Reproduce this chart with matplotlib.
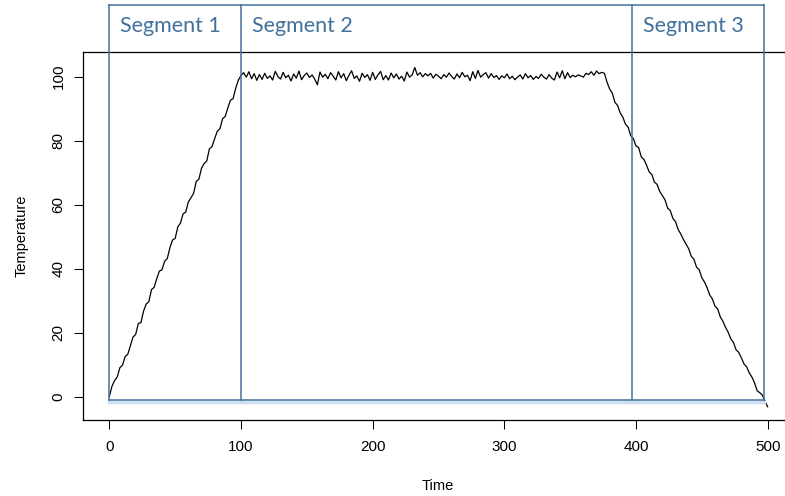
import numpy as np
from matplotlib import pyplot as plt

# datos: temperatura cada 2 unidades de tiempo
rampaSubida = [
    0.0, 3.2, 5.0, 6.1, 9.0, 9.8, 12.5, 13.2, 15.9, 18.6,
    19.4, 22.8, 23.1, 26.7, 28.9, 29.6, 33.4, 34.1, 36.8, 39.2,
    39.6, 42.3, 43.1, 46.5, 48.9, 49.4, 53.0, 54.2, 57.1, 57.6,
    60.8, 62.1, 63.5, 67.2, 67.9, 71.3, 72.8, 73.6, 77.4, 78.1,
    80.6, 82.9, 83.7, 86.8, 87.5, 90.2, 92.6, 93.1, 96.4, 98.9,
    100.3]
meseta = [
    101.2, 99.8, 101.5, 99.3, 100.9, 98.8, 100.6, 99.1, 101.0, 99.4,
    100.2, 98.9, 101.6, 100.0, 99.2, 101.3, 99.6, 100.4, 98.6, 100.8,
    99.5, 101.7, 99.0, 100.3, 101.1, 99.7, 100.5, 99.2, 97.4, 101.4,
    99.8, 100.7, 99.3, 101.2, 100.1, 98.9, 101.5, 99.6, 100.9, 98.7,
    100.4, 101.8, 99.4, 100.2, 98.5, 101.0, 99.7, 100.6, 98.8, 101.3,
    99.1, 100.5, 101.6, 99.0, 100.3, 98.9, 101.1, 99.6, 100.8, 99.2,
    100.1, 98.6, 101.4, 99.8, 100.5, 102.8, 100.4, 101.2, 99.9, 100.9,
    100.2, 101.0, 99.5, 100.7, 100.1, 99.3, 100.6, 99.8, 101.1, 100.0,
    99.2, 100.8, 99.6, 101.3, 99.9, 100.4, 98.7, 101.5, 99.4, 101.9,
    99.8, 100.6, 101.2, 99.5, 100.9, 99.7, 100.3, 99.1, 100.2, 99.6,
    100.8, 99.3, 100.1, 99.0, 99.8, 100.5, 99.2, 100.9, 99.6, 100.3,
    99.1, 100.0, 99.4, 100.7, 99.8, 99.2, 100.6, 99.5, 98.9, 101.4,
    99.6, 101.8, 99.3, 101.2, 99.7, 100.4, 99.9, 100.5, 100.2, 99.8,
    101.0, 100.6, 101.5, 100.4, 101.7, 100.9, 101.3]
rampaBajada = [
    101.0, 98.2, 96.1, 94.8, 91.9, 91.0, 88.6, 87.3, 85.1, 84.2,
    81.5, 80.6, 78.3, 77.8, 74.9, 74.1, 72.3, 70.2, 69.4, 67.0,
    66.3, 64.1, 62.8, 61.5, 58.9, 58.1, 55.7, 54.6, 52.2, 50.8,
    49.1, 47.6, 46.2, 43.8, 42.9, 40.4, 39.6, 37.1, 35.8, 34.0,
    31.7, 30.5, 28.2, 27.4, 24.9, 23.5, 21.6, 20.1, 18.0, 16.9,
    14.6, 13.8, 12.1, 10.2, 9.3, 7.4, 6.1, 4.3, 1.8, 1.2,
    0.4, -1.5, -3.2]

temperatura = rampaSubida + meseta + rampaBajada
tiempo = list(range(0, 2 * len(temperatura), 2))

# segmentos
limitesSegmentos = [0, 100, 397, 497]
nombresSegmentos = ["Segment 1", "Segment 2", "Segment 3"]
lineaBase = -1.1

AZUL = "#41719C"
AZUL_SOMBRA = "#cddff0"

plt.rcParams['font.family'] = ['Liberation Sans', 'DejaVu Sans']

fig = plt.figure(figsize=(7.85, 4.96), dpi=100)
ax = fig.add_axes([83 / 785, 1 - 420 / 496, (794 - 83) / 785, (420 - 52) / 496])

ax.plot(tiempo, temperatura, color="black", linewidth=0.9)

ax.set_xlim(-20, 520)
ax.set_ylim(-7.34, 107.66)
ax.set_xticks([0, 100, 200, 300, 400, 500])
ax.set_yticks([0, 20, 40, 60, 80, 100])
ax.tick_params(length=6.5, width=0.75, labelsize=11, pad=8)
ax.tick_params(axis="y", pad=6)
for etiqueta in ax.get_yticklabels():
    etiqueta.set_rotation(90)
    etiqueta.set_va("center")
for lado in ax.spines.values():
    lado.set_linewidth(0.9)

# cajas de los segmentos
techo = 107.66 + 47 / 3.2
inicio, fin = limitesSegmentos[0], limitesSegmentos[-1]
ax.plot([inicio, fin], [lineaBase - 0.7, lineaBase - 0.7], color=AZUL_SOMBRA,
        linewidth=2.5, clip_on=False, zorder=3)
ax.plot([inicio, fin], [lineaBase, lineaBase], color=AZUL, linewidth=1.1,
        clip_on=False, zorder=4)
ax.plot([inicio, fin], [techo, techo], color=AZUL, linewidth=1.1,
        clip_on=False, zorder=4)
for limite in limitesSegmentos:
    ax.plot([limite, limite], [lineaBase, techo], color=AZUL, linewidth=1.1,
            clip_on=False, zorder=4)

for limite, nombre in zip(limitesSegmentos[:-1], nombresSegmentos):
    ax.annotate(nombre, xy=(limite, 107.66 + 20 / 3.2), xytext=(8, 0),
                textcoords="offset points", color=AZUL, fontsize=15.5,
                family="Lato", va="baseline", ha="left", annotation_clip=False)

fig.text(438 / 785, 1 - 486 / 496, "Time", ha="center", va="center",
         fontsize=10.5)
fig.text(22 / 785, 1 - 236 / 496, "Temperature", ha="center", va="center",
         rotation=90, fontsize=10.5)

fig.savefig("out.png", dpi=100)
